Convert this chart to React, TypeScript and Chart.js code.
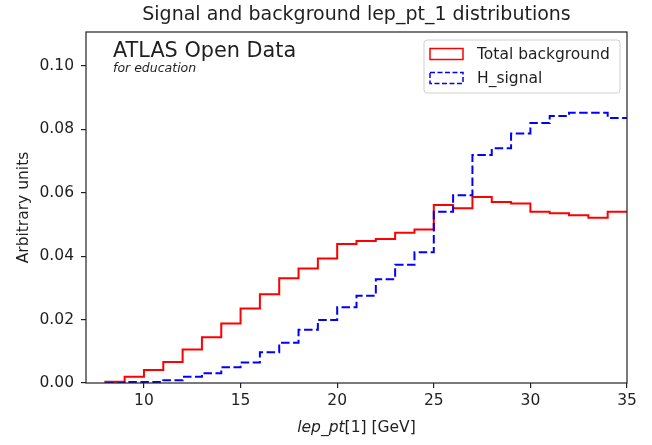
import { useEffect, useRef } from "react";
import { Chart, registerables } from "chart.js";

Chart.register(...registerables);

// Bin edges (GeV) of lep_pt[1] histogram
const binEdges = [8, 9, 10, 11, 12, 13, 14, 15, 16, 17, 18, 19, 20, 21, 22, 23, 24, 25, 26, 27, 28, 29, 30, 31, 32, 33, 34, 35];

// Bin contents (arbitrary units), one per bin
const backgroundValues = [
  0.0004, 0.0020, 0.0041, 0.0066, 0.0106, 0.0144, 0.0188, 0.0235, 0.0280, 0.0330,
  0.0361, 0.0393, 0.0438, 0.0448, 0.0454, 0.0474, 0.0484, 0.0561, 0.0551, 0.0587,
  0.0571, 0.0566, 0.0540, 0.0535, 0.0529, 0.0521, 0.0540,
];
const signalValues = [
  0.0000, 0.0003, 0.0003, 0.0009, 0.0020, 0.0031, 0.0050, 0.0065, 0.0097, 0.0127,
  0.0168, 0.0199, 0.0239, 0.0275, 0.0327, 0.0373, 0.0412, 0.0540, 0.0592, 0.0719,
  0.0740, 0.0787, 0.0820, 0.0842, 0.0852, 0.0852, 0.0836,
];

const xTickValues = [10, 15, 20, 25, 30, 35];
const yTickValues = [0, 0.02, 0.04, 0.06, 0.08, 0.1];

const X_MIN = 7;
const X_MAX = 35;
const Y_MAX = 0.1107;

const FONT = "'DejaVu Sans', sans-serif";
const TEXT = "#1f1f1f";

function stepPoints(edges: number[], values: number[]) {
  const pts: { x: number; y: number }[] = [{ x: edges[0], y: 0 }];
  values.forEach((v, i) => pts.push({ x: edges[i], y: v }));
  const last = edges[edges.length - 1];
  pts.push({ x: last, y: values[values.length - 1] });
  return pts;
}

const decorPlugin = {
  id: "decor",
  afterDraw(chart: any) {
    const ctx = chart.ctx as CanvasRenderingContext2D;
    const a = chart.chartArea;
    ctx.save();
    // frame
    ctx.strokeStyle = "#222";
    ctx.lineWidth = 1.2;
    ctx.strokeRect(a.left, a.top, a.right - a.left, a.bottom - a.top);

    ctx.fillStyle = TEXT;
    ctx.textBaseline = "alphabetic";

    // title
    ctx.font = `19px ${FONT}`;
    ctx.textAlign = "center";
    ctx.fillText("Signal and background lep_pt_1 distributions", (a.left + a.right) / 2, 20);

    // x label: italic + normal
    const xl1 = "lep_pt";
    const xl2 = "[1] [GeV]";
    ctx.font = `italic 15.5px ${FONT}`;
    const w1 = ctx.measureText(xl1).width;
    ctx.font = `15.5px ${FONT}`;
    const w2 = ctx.measureText(xl2).width;
    const cx = (a.left + a.right) / 2;
    const startX = cx - (w1 + w2) / 2;
    ctx.textAlign = "left";
    ctx.font = `italic 15.5px ${FONT}`;
    ctx.fillText(xl1, startX, 432);
    ctx.font = `15.5px ${FONT}`;
    ctx.fillText(xl2, startX + w1, 432);

    // y label
    ctx.save();
    ctx.translate(28, (a.top + a.bottom) / 2);
    ctx.rotate(-Math.PI / 2);
    ctx.textAlign = "center";
    ctx.font = `15.5px ${FONT}`;
    ctx.fillText("Arbitrary units", 0, 0);
    ctx.restore();

    // ATLAS label
    ctx.textAlign = "left";
    ctx.font = `20.8px ${FONT}`;
    ctx.fillText("ATLAS Open Data", 113, 56.5);
    ctx.font = `italic 12.5px ${FONT}`;
    ctx.fillText("for education", 113, 71.5);

    // legend box
    const lx = 424, ly = 40, lw = 196, lh = 53, r = 3;
    ctx.beginPath();
    ctx.moveTo(lx + r, ly);
    ctx.lineTo(lx + lw - r, ly);
    ctx.quadraticCurveTo(lx + lw, ly, lx + lw, ly + r);
    ctx.lineTo(lx + lw, ly + lh - r);
    ctx.quadraticCurveTo(lx + lw, ly + lh, lx + lw - r, ly + lh);
    ctx.lineTo(lx + r, ly + lh);
    ctx.quadraticCurveTo(lx, ly + lh, lx, ly + lh - r);
    ctx.lineTo(lx, ly + r);
    ctx.quadraticCurveTo(lx, ly, lx + r, ly);
    ctx.closePath();
    ctx.fillStyle = "rgba(255,255,255,0.8)";
    ctx.fill();
    ctx.strokeStyle = "#d0d0d0";
    ctx.lineWidth = 1;
    ctx.stroke();

    const ds = chart.data.datasets;
    // red patch
    ctx.lineWidth = 1.5;
    ctx.strokeStyle = ds[0].borderColor;
    ctx.setLineDash([]);
    ctx.strokeRect(430, 48.5, 33, 11);
    // blue dashed patch
    ctx.strokeStyle = ds[1].borderColor;
    ctx.setLineDash([5, 2.5]);
    ctx.strokeRect(430, 72.5, 33, 11);
    ctx.setLineDash([]);

    ctx.fillStyle = TEXT;
    ctx.font = `15.5px ${FONT}`;
    ctx.fillText(ds[0].label, 477, 58.5);
    ctx.fillText(ds[1].label, 477, 83.3);
    ctx.restore();
  },
};

export default function App() {
  const ref = useRef<HTMLCanvasElement | null>(null);

  useEffect(() => {
    document.body.style.margin = "0";
    const canvas = ref.current;
    if (!canvas) return;
    const tickFont = { family: FONT, size: 15.5 };
    const chart = new Chart(canvas, {
      type: "line",
      data: {
        datasets: [
          {
            label: "Total background",
            data: stepPoints(binEdges, backgroundValues),
            borderColor: "#ff0000",
            borderWidth: 2,
            stepped: "before",
            pointRadius: 0,
            fill: false,
            order: 1,
          },
          {
            label: "H_signal",
            data: stepPoints(binEdges, signalValues),
            borderColor: "#0000ff",
            borderWidth: 2,
            borderDash: [8.5, 3.5],
            stepped: "before",
            pointRadius: 0,
            fill: false,
            order: 0,
          },
        ],
      } as any,
      options: {
        responsive: false,
        animation: false,
        events: [],
        layout: { padding: { left: 0, top: 32, right: 25, bottom: 0 } },
        plugins: {
          legend: { display: false },
          title: { display: false },
          tooltip: { enabled: false },
        },
        scales: {
          x: {
            type: "linear",
            min: X_MIN,
            max: X_MAX,
            afterBuildTicks: (s: any) => {
              s.ticks = xTickValues.map((v) => ({ value: v }));
            },
            afterFit: (s: any) => {
              s.height = 62;
            },
            ticks: {
              font: tickFont,
              color: TEXT,
              padding: 4,
              maxRotation: 0,
              autoSkip: false,
              callback: (v: any) => String(v),
            },
            grid: { drawOnChartArea: false, drawTicks: true, tickLength: 5, color: "#222", lineWidth: 1.2 },
            border: { display: false },
          },
          y: {
            type: "linear",
            min: 0,
            max: Y_MAX,
            afterBuildTicks: (s: any) => {
              s.ticks = yTickValues.map((v) => ({ value: v }));
            },
            afterFit: (s: any) => {
              s.width = 86;
            },
            ticks: {
              font: tickFont,
              color: TEXT,
              padding: 7,
              autoSkip: false,
              callback: (v: any) => Number(v).toFixed(2),
            },
            grid: { drawOnChartArea: false, drawTicks: true, tickLength: 5, color: "#222", lineWidth: 1.2 },
            border: { display: false },
          },
        },
      } as any,
      plugins: [decorPlugin],
    });
    return () => chart.destroy();
  }, []);

  return (
    <div style={{ width: 652, height: 445 }}>
      <canvas ref={ref} width={652} height={445} style={{ display: "block" }} />
    </div>
  );
}
